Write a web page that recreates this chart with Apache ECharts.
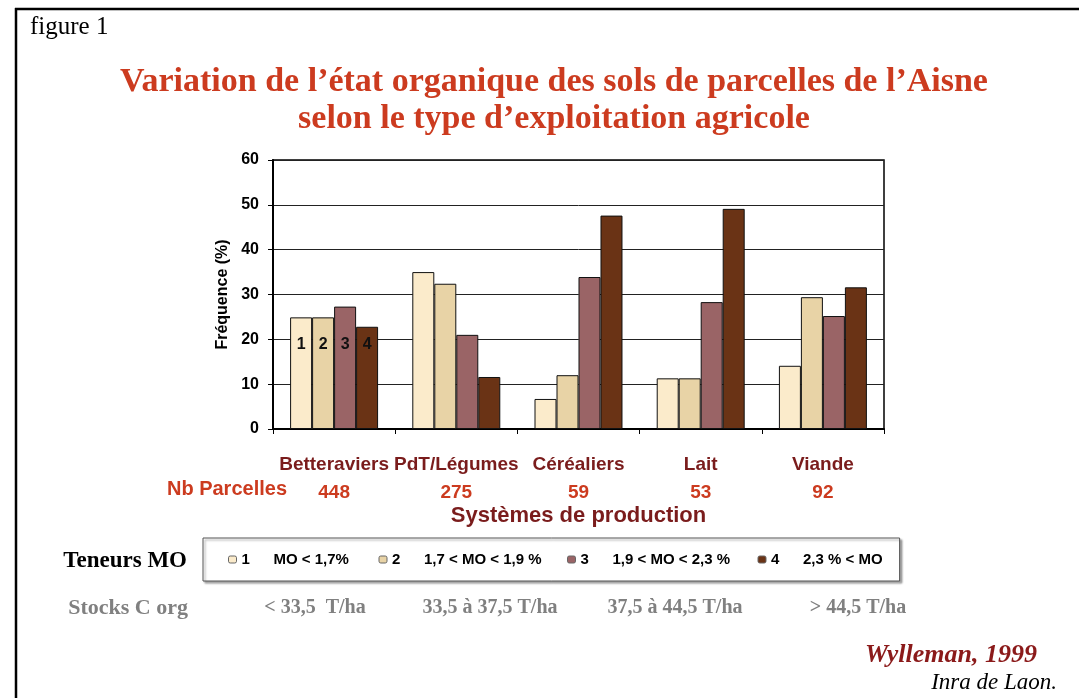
<!DOCTYPE html>
<html>
<head>
<meta charset="utf-8">
<script src="https://cdn.jsdelivr.net/npm/echarts@6/dist/echarts.min.js"></script>
<style>
html,body{margin:0;padding:0;background:#fff;}
#chart{width:1079px;height:698px;}
</style>
</head>
<body>
<div id="chart"></div>
<script>
// ---- data ----
var categories = ['Betteraviers', 'PdT/Légumes', 'Céréaliers', 'Lait', 'Viande'];
var nbParcelles = [448, 275, 59, 53, 92];
var seriesNames = ['1', '2', '3', '4'];
var seriesLabels = ['MO < 1,7%', '1,7 < MO < 1,9 %', '1,9 < MO < 2,3 %', '2,3 % < MO'];
var stocksLabels = ['< 33,5  T/ha', '33,5 à 37,5 T/ha', '37,5 à 44,5 T/ha', '> 44,5 T/ha'];
var s1 = [24.9, 35.0, 6.7, 11.3, 14.1];
var s2 = [24.9, 32.4, 12.0, 11.3, 29.4];
var s3 = [27.3, 21.0, 33.9, 28.3, 25.2];
var s4 = [22.8, 11.6, 47.6, 49.1, 31.6];
var yTicks = [0, 10, 20, 30, 40, 50, 60];

var colors = ['#fbebcb', '#e8d3a6', '#9a6466', '#6a3315'];
var serif = '"Liberation Serif", "Times New Roman", serif';
var sans = '"Liberation Sans", Arial, sans-serif';

var allData = [s1, s2, s3, s4];
var series = allData.map(function (arr, si) {
  return {
    name: seriesNames[si],
    type: 'bar',
    barGap: '0%',
    barCategoryGap: '28%',
    itemStyle: { color: colors[si], borderColor: '#111', borderWidth: 1 },
    label: {
      show: false, position: 'insideBottom', distance: 76,
      fontFamily: sans, fontWeight: 'bold', fontSize: 16, color: '#111',
      formatter: seriesNames[si]
    },
    data: arr.map(function (v, i) {
      return i === 0 ? { value: v, label: { show: true } } : v;
    })
  };
});

var stockX = [315, 490, 675, 858];
var graphics = [
  { type: 'line', shape: { x1: 16, y1: 8, x2: 16, y2: 698 }, style: { stroke: '#000', lineWidth: 2.5 } },
  { type: 'line', shape: { x1: 15, y1: 9, x2: 1079, y2: 9 }, style: { stroke: '#000', lineWidth: 2.5 } },
  { type: 'text', x: 30, y: 27, style: { text: 'figure 1', font: '25px ' + serif, fill: '#000', textVerticalAlign: 'middle' } },
  { type: 'text', x: 287, y: 489, style: { text: 'Nb Parcelles', font: 'bold 20px ' + sans, fill: '#cc3b1f', textAlign: 'right', textVerticalAlign: 'middle' } },
  { type: 'text', x: 187, y: 561, style: { text: 'Teneurs MO', font: 'bold 23px ' + serif, fill: '#000', textAlign: 'right', textVerticalAlign: 'middle' } },
  { type: 'text', x: 188, y: 608, style: { text: 'Stocks C org', font: 'bold 22px ' + serif, fill: '#808080', textAlign: 'right', textVerticalAlign: 'middle' } },
  { type: 'text', x: 1037, y: 655, style: { text: 'Wylleman, 1999', font: 'italic bold 26px ' + serif, fill: '#8b1a1a', textAlign: 'right', textVerticalAlign: 'middle' } },
  { type: 'text', x: 1057, y: 683, style: { text: 'Inra de Laon.', font: 'italic 23px ' + serif, fill: '#000', textAlign: 'right', textVerticalAlign: 'middle' } }
];
stocksLabels.forEach(function (t, i) {
  graphics.push({ type: 'text', x: stockX[i], y: 608, style: { text: t, font: 'bold 20px ' + serif, fill: '#808080', textAlign: 'center', textVerticalAlign: 'middle' } });
});

var tWidths = [95, 133, 135, 0];
var legendRich = { n: { fontFamily: sans, fontWeight: 'bold', fontSize: 15, color: '#000', width: 32 } };
tWidths.forEach(function (w, i) {
  var st = { fontFamily: sans, fontWeight: 'bold', fontSize: 15, color: '#000' };
  if (w) st.width = w;
  legendRich['t' + i] = st;
});

var option = {
  backgroundColor: '#fff',
  animation: false,
  title: {
    text: 'Variation de l’état organique des sols de parcelles de l’Aisne\nselon le type d’exploitation agricole',
    left: 549, top: 59, textAlign: 'center',
    textStyle: { fontFamily: serif, fontWeight: 'bold', fontSize: 34, color: '#cc3b1f', lineHeight: 37 }
  },
  legend: {
    left: 203, top: 538,
    padding: [12, 17, 12, 25],
    itemGap: 10, itemWidth: 8, itemHeight: 7,
    borderColor: '#555', borderWidth: 1,
    shadowColor: 'rgba(0,0,0,0.35)', shadowOffsetX: 2, shadowOffsetY: 2, shadowBlur: 2,
    backgroundColor: '#fff',
    data: seriesNames.map(function (n) { return { name: n, itemStyle: { borderColor: '#666', borderWidth: 1 } }; }),
    formatter: function (name) {
      var i = seriesNames.indexOf(name);
      return '{n|' + name + '}{t' + i + '|' + seriesLabels[i] + '}';
    },
    textStyle: { lineHeight: 19, rich: legendRich }
  },
  grid: {
    left: 273, right: 195, top: 160, bottom: 269,
    show: true, borderColor: '#000', borderWidth: 1.5, backgroundColor: 'transparent'
  },
  xAxis: {
    type: 'category',
    data: categories,
    name: 'Systèmes de production',
    nameLocation: 'middle',
    nameGap: 76,
    nameTextStyle: { fontFamily: sans, fontWeight: 'bold', fontSize: 22, color: '#7a1c1c' },
    axisLine: { lineStyle: { color: '#000', width: 2 } },
    axisTick: { show: true, length: 5, lineStyle: { color: '#000' } },
    axisLabel: {
      margin: 22,
      formatter: function (v, i) { return '{a|' + v + '}\n{b|' + nbParcelles[i] + '}'; },
      rich: {
        a: { fontFamily: sans, fontWeight: 'bold', fontSize: 19, color: '#7a1c1c', lineHeight: 28 },
        b: { fontFamily: sans, fontWeight: 'bold', fontSize: 19, color: '#cc3b1f', lineHeight: 28 }
      }
    }
  },
  yAxis: {
    type: 'value',
    min: yTicks[0], max: yTicks[yTicks.length - 1], interval: 10,
    name: 'Fréquence (%)',
    nameLocation: 'middle',
    nameGap: 42,
    nameTextStyle: { fontFamily: sans, fontWeight: 'bold', fontSize: 16, color: '#000' },
    axisLine: { show: true, lineStyle: { color: '#000', width: 2 } },
    axisTick: { show: true, length: 5, lineStyle: { color: '#000' } },
    axisLabel: { margin: 14, fontFamily: sans, fontWeight: 'bold', fontSize: 16, color: '#000' },
    splitLine: { show: true, lineStyle: { color: '#222', width: 1 } }
  },
  graphic: graphics,
  series: series
};

var chart = echarts.init(document.getElementById('chart'), null, { renderer: 'canvas' });
chart.setOption(option);
</script>
</body>
</html>
